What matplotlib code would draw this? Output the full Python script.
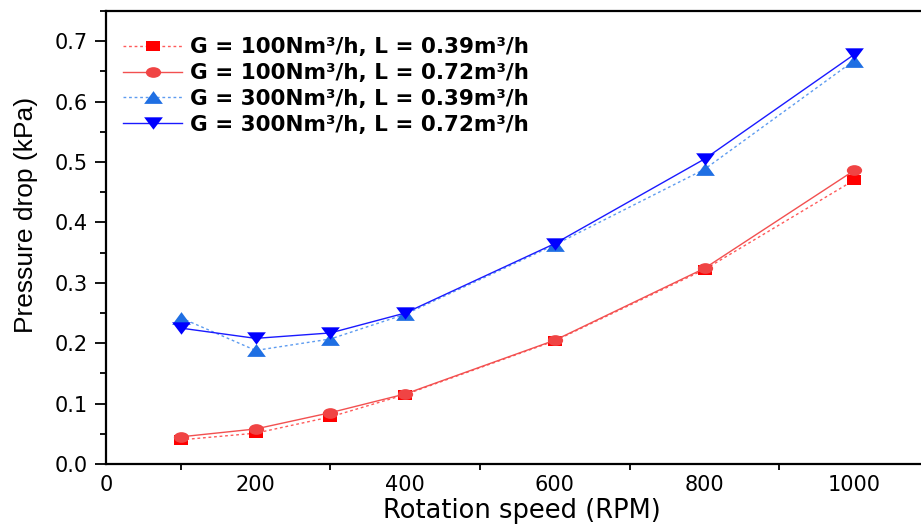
import matplotlib
matplotlib.use("Agg")
import matplotlib.pyplot as plt
from matplotlib.ticker import MultipleLocator, FixedLocator, FormatStrFormatter
from matplotlib.path import Path
from matplotlib.transforms import Affine2D

plt.rcParams['font.family'] = ['DejaVu Sans']

rpm = [100, 200, 300, 400, 600, 800, 1000]
g100_l039 = [0.040, 0.051, 0.078, 0.115, 0.204, 0.322, 0.470]
g100_l072 = [0.045, 0.058, 0.085, 0.116, 0.205, 0.324, 0.486]
g300_l039 = [0.242, 0.188, 0.207, 0.248, 0.363, 0.488, 0.668]
g300_l072 = [0.225, 0.208, 0.217, 0.250, 0.365, 0.505, 0.678]

labels = [
    "G = 100Nm³/h, L = 0.39m³/h",
    "G = 100Nm³/h, L = 0.72m³/h",
    "G = 300Nm³/h, L = 0.39m³/h",
    "G = 300Nm³/h, L = 0.72m³/h",
]

# wide, flattened marker shapes
sq = [(-1, -0.66), (1, -0.66), (1, 0.66), (-1, 0.66), (-1, -0.66)]
ell = Affine2D().scale(1, 0.7).transform_path(Path.unit_circle())
tri_up = [(-1, -0.68), (1, -0.68), (0, 0.68), (-1, -0.68)]
tri_dn = [(-1, 0.66), (1, 0.66), (0, -0.66), (-1, 0.66)]

W, H = 921, 526
fig = plt.figure(figsize=(W / 100, H / 100), dpi=100)
ax = fig.add_axes([106 / W, 62 / H, 832 / W, 453 / H])

ax.plot(rpm, g100_l039, ls=(0, (2, 2)), color='#ff5a5a', lw=1.0,
        marker=sq, ms=10, mfc='#ff0000', mec='#ff0000', mew=0, label=labels[0])
ax.plot(rpm, g100_l072, ls='-', color='#f25050', lw=1.0,
        marker=ell, ms=11, mfc='#f04444', mec='#f04444', mew=0, label=labels[1])
ax.plot(rpm, g300_l039, ls=(0, (2, 2)), color='#5e9cf0', lw=1.0,
        marker=tri_up, ms=13.5, mfc='#1f6fe3', mec='#1f6fe3', mew=0, label=labels[2])
ax.plot(rpm, g300_l072, ls='-', color='#1a1aff', lw=1.0,
        marker=tri_dn, ms=13.5, mfc='#0000ff', mec='#0000ff', mew=0, label=labels[3])

ax.set_xlim(0, 1112)
ax.set_ylim(0, 0.75)

ax.xaxis.set_major_locator(FixedLocator([0, 200, 400, 600, 800, 1000]))
ax.xaxis.set_minor_locator(FixedLocator([100, 300, 500, 700, 900]))
ax.yaxis.set_major_locator(MultipleLocator(0.1))
ax.yaxis.set_minor_locator(MultipleLocator(0.05))
ax.yaxis.set_major_formatter(FormatStrFormatter('%.1f'))

ax.tick_params(axis='x', which='major', length=0, pad=8, labelsize=15)
ax.tick_params(axis='x', which='minor', length=4, width=1.3, direction='out')
ax.tick_params(axis='y', which='major', length=8, width=1.3, direction='out',
               labelsize=15, pad=5)
ax.tick_params(axis='y', which='minor', length=4.3, width=1.3, direction='out')

for side in ['left', 'bottom', 'top']:
    ax.spines[side].set_linewidth(1.6)
ax.spines['right'].set_visible(False)

ax.set_xlabel("Rotation speed (RPM)", fontsize=18.5, labelpad=2)
ax.set_ylabel("Pressure drop (kPa)", fontsize=19,
              family=['Liberation Sans', 'DejaVu Sans'])
ax.yaxis.set_label_coords(-0.082, 0.55)

ax.legend(loc='upper left', bbox_to_anchor=(0.0, 0.98), frameon=False,
          prop={'weight': 'bold', 'size': 15.5}, handlelength=2.75,
          handletextpad=0.35, labelspacing=0.27, borderaxespad=0.6,
          borderpad=0.2)

fig.savefig("out.png", dpi=100)
